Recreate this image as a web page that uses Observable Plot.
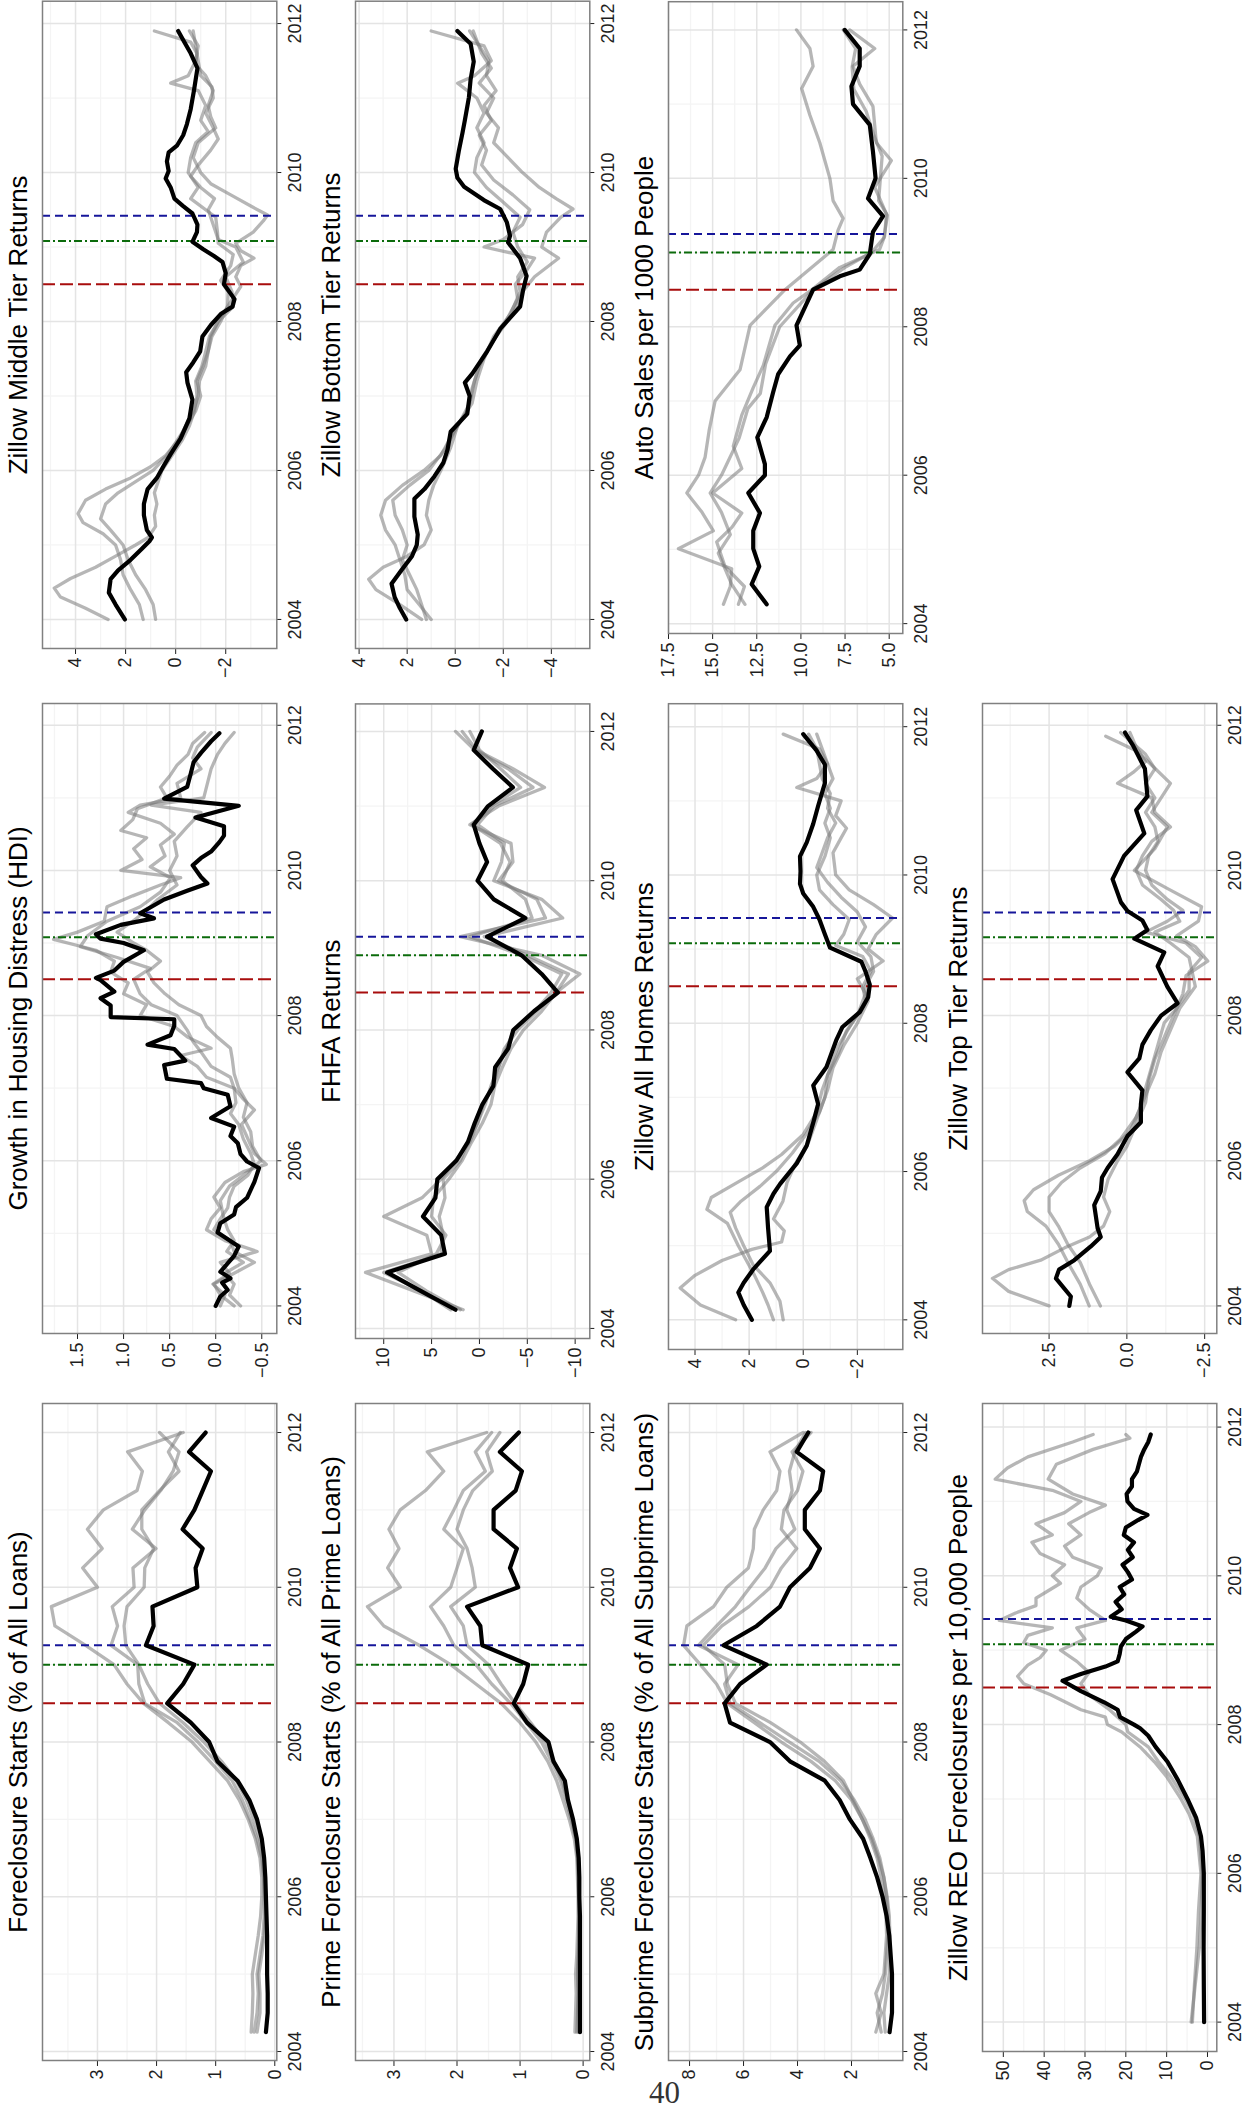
<!DOCTYPE html>
<html><head><meta charset="utf-8">
<script src="https://cdn.jsdelivr.net/npm/d3@7"></script>
<script src="https://cdn.jsdelivr.net/npm/@observablehq/plot@0.6"></script>
<style>
html,body{margin:0;padding:0;background:#fff;}
body{width:1245px;height:2110px;position:relative;overflow:hidden;font-family:"Liberation Sans",Arial,sans-serif;}
#land{position:absolute;left:0;top:0;width:2110px;height:1245px;transform-origin:0 0;transform:translate(0px,2110px) rotate(-90deg);}
#land svg{position:absolute;overflow:visible;max-width:none;}
#pagenum{position:absolute;left:649px;top:2077px;font-family:"Liberation Serif","DejaVu Serif",serif;font-size:31px;line-height:1;color:#333;}
</style></head><body>
<div id="land"></div>
<div id="pagenum">40</div>
<script>
// ---------- shared tick data ----------
const xMajor = [2004, 2006, 2008, 2010, 2012];
const xMinor = [2005, 2007, 2009, 2011];
const qYears = [2004.25,2004.5,2004.75,2005,2005.25,2005.5,2005.75,2006,2006.25,2006.5,2006.75,2007,2007.25,2007.5,2007.75,2008,2008.25,2008.5,2008.75,2009,2009.25,2009.5,2009.75,2010,2010.25,2010.5,2010.75,2011,2011.25,2011.5,2011.75,2012];
const breaksQuarterly = [2008.5, 2009.0, 2009.25];
const breaksMonthly = [2008.5, 2009.08, 2009.42];

// ---------- Foreclosure starts (quarterly) ----------
const fsBlack = [0.15,0.12,0.12,0.13,0.13,0.13,0.14,0.15,0.16,0.18,0.22,0.3,0.43,0.63,0.97,1.11,1.42,1.82,1.55,1.36,2.18,2.05,2.07,1.31,1.34,1.22,1.56,1.36,1.22,1.08,1.45,1.17];
const fsGray1 = [0.4,0.38,0.37,0.38,0.33,0.28,0.24,0.22,0.22,0.25,0.33,0.45,0.6,0.8,1.1,1.4,1.8,2.22,2.5,2.72,3.2,3.72,3.78,3.0,3.25,2.92,3.17,2.9,2.33,2.24,2.49,1.55];
const fsGray2 = [0.35,0.3,0.28,0.3,0.25,0.2,0.18,0.18,0.19,0.22,0.3,0.42,0.55,0.72,1.0,1.3,1.65,2.2,2.3,2.32,2.77,2.66,2.75,2.38,2.4,2.01,2.41,2.2,1.93,1.72,1.62,1.95];
const fsGray3 = [0.3,0.25,0.25,0.27,0.22,0.18,0.16,0.17,0.18,0.2,0.26,0.36,0.48,0.65,0.9,1.2,1.55,1.95,2.15,2.3,2.52,2.55,2.5,2.21,2.2,2.05,2.25,2.25,1.95,1.62,1.8,1.6];

const primeBlack = [0.05,0.05,0.05,0.05,0.05,0.05,0.05,0.06,0.06,0.07,0.1,0.16,0.24,0.29,0.47,0.55,0.89,1.1,0.95,0.87,1.6,1.63,1.84,1.03,1.16,1.05,1.42,1.42,1.07,0.97,1.32,1.02];
const primeGray1 = [0.13,0.12,0.11,0.12,0.1,0.09,0.08,0.08,0.09,0.1,0.14,0.22,0.32,0.42,0.56,0.75,1.0,1.3,1.7,2.1,2.6,3.16,3.42,2.9,3.1,2.92,3.08,2.9,2.5,2.21,2.47,1.53];
const primeGray2 = [0.1,0.09,0.08,0.09,0.08,0.07,0.07,0.07,0.08,0.09,0.12,0.19,0.27,0.36,0.5,0.66,0.9,1.15,1.45,1.7,2.05,2.21,2.42,2.1,2.0,1.9,2.21,2.05,1.9,1.55,1.71,1.45];
const primeGray3 = [0.08,0.08,0.07,0.08,0.07,0.06,0.06,0.06,0.07,0.08,0.11,0.17,0.25,0.33,0.46,0.6,0.83,1.08,1.3,1.5,1.84,1.9,2.1,1.71,1.76,1.84,2.0,1.9,1.75,1.44,1.53,1.32];

const subBlack = [0.59,0.5,0.5,0.5,0.55,0.6,0.7,0.85,1.05,1.3,1.57,2.06,2.44,2.99,4.28,5.02,6.5,6.7,6.13,5.14,6.74,5.51,4.65,4.28,3.54,3.17,3.73,3.73,3.17,3.05,4.03,3.6];
const subGray1 = [1.1,0.9,1.1,0.8,0.75,0.7,0.72,0.78,0.9,1.05,1.3,1.6,2.0,2.6,3.5,4.6,5.6,6.6,7.0,7.6,8.22,8.1,7.11,6.62,5.82,5.64,5.6,5.27,4.77,4.65,5.02,3.79];
const subGray2 = [0.9,1.05,0.85,0.75,0.7,0.65,0.65,0.7,0.8,0.95,1.2,1.5,1.9,2.4,3.2,4.3,5.4,6.5,6.7,6.2,7.67,7.0,6.3,5.76,5.2,4.8,4.1,4.4,4.2,4.3,4.1,3.7];
const subGray3 = [0.75,0.8,0.7,0.6,0.6,0.58,0.6,0.68,0.8,1.0,1.25,1.6,1.95,2.3,3.0,3.9,5.0,6.3,6.6,6.7,7.5,6.8,5.8,5.0,4.6,4.03,4.6,4.5,4.0,3.8,4.2,3.5];

const fhfaBlack = [2.5,6.1,9.65,3.6,4.0,5.9,4.6,4.4,2.4,1.2,0.5,-0.3,-1.46,-1.64,-3.0,-3.54,-5.7,-8.2,-6.5,-4.4,-0.8,-4.8,-1.5,0.2,-0.8,0.0,0.6,-0.9,-3.5,-1.4,0.6,-0.25];
const fhfaGray1 = [1.7,6.8,11.9,5.0,5.5,10.0,6.0,4.0,2.5,1.0,0.2,-0.6,-1.2,-2.0,-2.6,-4.0,-6.0,-8.0,-10.5,-6.5,2.0,-6.9,-6.0,-2.0,-3.5,-3.3,1.0,-2.0,-6.8,-3.5,0.3,1.8];
const fhfaGray2 = [2.0,5.5,8.5,4.5,3.5,5.0,4.8,3.2,1.8,0.8,-0.3,-1.2,-1.6,-2.4,-3.3,-4.6,-6.5,-8.0,-9.3,-5.0,-0.5,-8.7,-6.5,-1.5,-2.3,-2.6,0.2,-1.5,-5.6,-3.0,0.5,2.5];
const fhfaGray3 = [3.0,6.0,10.0,4.0,3.8,4.2,3.6,3.8,2.0,1.2,0.2,-0.4,-1.4,-2.0,-2.8,-3.6,-5.8,-7.5,-8.6,-4.5,1.0,-5.5,-4.8,-2.4,-3.2,-2.2,0.8,-1.2,-4.3,-2.2,0.0,1.0];

// ---------- monthly-ish series: [year, value] ----------
const reoBlack = [[2004.0,0.83],[2004.5,0.9],[2005.0,0.95],[2005.5,0.9],[2006.0,0.9],[2006.3,1.2],[2006.5,1.6],[2006.75,2.8],[2007.0,4.9],[2007.25,7.2],[2007.5,9.8],[2007.7,12.7],[2007.85,14.5],[2007.95,16.5],[2008.0,18],[2008.1,21.4],[2008.2,22],[2008.3,25.3],[2008.45,31],[2008.59,35.5],[2008.68,31],[2008.78,25],[2008.85,22],[2008.95,21.5],[2009.05,21.2],[2009.15,20],[2009.25,17.5],[2009.32,15.9],[2009.4,20],[2009.45,23.7],[2009.55,21],[2009.65,22.5],[2009.75,20.4],[2009.85,21.5],[2009.95,18.5],[2010.05,19.5],[2010.15,20.8],[2010.25,18.3],[2010.35,19.5],[2010.45,18],[2010.55,20.5],[2010.65,20],[2010.75,17],[2010.82,14.7],[2010.9,18],[2011.0,19.6],[2011.1,19.8],[2011.2,18.5],[2011.3,18.5],[2011.4,17.3],[2011.5,16.8],[2011.6,16.3],[2011.7,15.5],[2011.8,14.5],[2011.9,13.9]];
const reoGray1 = [[2004.0,3.7],[2004.5,3.2],[2005.0,2.6],[2005.5,2.2],[2006.0,1.6],[2006.5,2.5],[2006.8,4.5],[2007.0,6.5],[2007.3,10],[2007.5,13],[2007.7,16.5],[2007.9,21],[2008.0,24.5],[2008.1,25],[2008.2,31],[2008.4,38.4],[2008.55,45],[2008.65,46.5],[2008.8,44],[2008.9,41],[2009.0,39.5],[2009.1,45],[2009.2,44],[2009.3,38],[2009.4,51],[2009.5,47],[2009.6,42],[2009.7,42],[2009.8,39],[2009.9,36],[2010.0,38],[2010.15,35],[2010.3,41],[2010.45,43],[2010.55,38],[2010.7,42],[2010.85,35],[2011.0,31],[2011.15,38],[2011.3,52],[2011.45,49],[2011.6,44],[2011.8,33],[2011.9,28]];
const reoGray2 = [[2004.0,4.0],[2004.5,3.0],[2005.0,2.0],[2005.5,1.5],[2006.0,1.3],[2006.5,2.0],[2006.8,3.5],[2007.0,5.5],[2007.3,9],[2007.5,12],[2007.7,14.5],[2007.9,19.5],[2008.0,20],[2008.2,24],[2008.4,29],[2008.55,31],[2008.7,29],[2008.85,32],[2009.0,36],[2009.15,30],[2009.3,32],[2009.4,25],[2009.55,29],[2009.7,32],[2009.85,31],[2010.0,27],[2010.1,26],[2010.25,33],[2010.4,35],[2010.55,31],[2010.7,34],[2010.85,29],[2010.95,25],[2011.1,33],[2011.3,39],[2011.5,37],[2011.7,28],[2011.85,19],[2011.9,20]];

const hdiBlack = [[2004.0,0.0],[2004.13,-0.05],[2004.22,-0.13],[2004.32,-0.07],[2004.38,-0.16],[2004.47,-0.05],[2004.69,-0.2],[2004.82,-0.25],[2005.01,-0.02],[2005.14,-0.05],[2005.26,-0.2],[2005.36,-0.22],[2005.49,-0.34],[2005.71,-0.42],[2005.9,-0.47],[2005.99,-0.34],[2006.09,-0.27],[2006.24,-0.24],[2006.34,-0.16],[2006.47,-0.2],[2006.59,0.05],[2006.75,-0.16],[2006.91,-0.13],[2007.0,0.13],[2007.07,0.16],[2007.13,0.53],[2007.32,0.56],[2007.38,0.33],[2007.54,0.45],[2007.6,0.74],[2007.73,0.49],[2007.86,0.45],[2007.95,0.45],[2007.98,1.14],[2008.14,1.14],[2008.24,1.25],[2008.33,1.1],[2008.49,1.25],[2008.52,1.3],[2008.62,1.1],[2008.74,1.0],[2008.9,0.78],[2009.0,1.0],[2009.06,1.25],[2009.12,1.3],[2009.25,1.03],[2009.34,0.67],[2009.41,0.82],[2009.6,0.56],[2009.72,0.31],[2009.82,0.09],[2009.91,0.16],[2010.07,0.25],[2010.17,0.16],[2010.26,0.05],[2010.39,-0.04],[2010.48,-0.09],[2010.61,-0.09],[2010.73,0.22],[2010.89,-0.25],[2010.99,0.56],[2011.15,0.31],[2011.34,0.27],[2011.49,0.24],[2011.62,0.16],[2011.78,0.05],[2011.89,-0.04]];
const hdiGray1 = [[2004.0,-0.05],[2004.15,-0.1],[2004.3,0.03],[2004.45,-0.15],[2004.6,-0.05],[2004.75,-0.45],[2004.9,-0.1],[2005.05,0.1],[2005.2,0.05],[2005.35,-0.05],[2005.5,0.02],[2005.7,-0.1],[2005.85,-0.3],[2005.95,-0.55],[2006.1,-0.42],[2006.3,-0.35],[2006.5,-0.28],[2006.7,-0.42],[2006.85,-0.3],[2007.0,-0.2],[2007.15,0.1],[2007.3,0.2],[2007.45,0.38],[2007.55,0.05],[2007.7,0.3],[2007.85,0.45],[2008.0,0.82],[2008.15,0.75],[2008.3,1.0],[2008.45,0.95],[2008.6,1.14],[2008.75,1.1],[2008.9,1.3],[2009.05,1.76],[2009.15,1.5],[2009.3,1.21],[2009.5,1.18],[2009.65,0.9],[2009.8,0.6],[2009.9,0.38],[2010.0,1.03],[2010.15,0.8],[2010.3,0.89],[2010.45,0.75],[2010.55,1.03],[2010.7,0.9],[2010.85,0.85],[2011.0,0.53],[2011.15,0.6],[2011.3,0.5],[2011.45,0.42],[2011.6,0.3],[2011.75,0.25],[2011.9,0.12]];
const hdiGray2 = [[2004.0,-0.2],[2004.15,-0.05],[2004.3,0.02],[2004.45,-0.2],[2004.6,-0.42],[2004.75,-0.2],[2004.9,-0.16],[2005.05,0.02],[2005.2,-0.05],[2005.35,-0.13],[2005.5,-0.15],[2005.65,-0.2],[2005.8,-0.35],[2005.95,-0.42],[2006.1,-0.38],[2006.3,-0.3],[2006.5,-0.25],[2006.65,-0.16],[2006.8,-0.22],[2007.0,-0.2],[2007.15,-0.16],[2007.3,0.05],[2007.5,0.16],[2007.65,0.25],[2007.8,0.31],[2008.0,0.42],[2008.15,0.7],[2008.3,0.82],[2008.5,0.89],[2008.65,0.71],[2008.8,1.07],[2008.95,1.47],[2009.1,1.39],[2009.3,1.18],[2009.5,0.82],[2009.7,0.6],[2009.9,0.49],[2010.05,0.71],[2010.2,0.55],[2010.35,0.6],[2010.5,0.45],[2010.65,0.6],[2010.8,0.95],[2010.9,0.82],[2011.0,0.38],[2011.2,0.42],[2011.4,0.16],[2011.55,0.25],[2011.7,0.2],[2011.9,0.05]];
const hdiGray3 = [[2004.0,-0.27],[2004.15,-0.15],[2004.3,-0.2],[2004.45,-0.1],[2004.6,-0.3],[2004.75,-0.12],[2004.9,-0.2],[2005.05,-0.13],[2005.25,-0.08],[2005.45,-0.05],[2005.65,-0.15],[2005.85,-0.35],[2006.0,-0.49],[2006.2,-0.4],[2006.4,-0.38],[2006.6,-0.3],[2006.8,-0.34],[2007.0,-0.25],[2007.2,-0.2],[2007.4,-0.18],[2007.55,-0.16],[2007.7,-0.02],[2007.85,0.1],[2008.0,0.16],[2008.15,0.4],[2008.3,0.55],[2008.45,0.67],[2008.6,0.74],[2008.75,0.6],[2008.9,0.75],[2009.0,0.89],[2009.15,1.07],[2009.3,0.9],[2009.45,0.75],[2009.6,0.63],[2009.8,0.42],[2010.0,0.5],[2010.2,0.42],[2010.4,0.45],[2010.6,0.31],[2010.8,0.16],[2010.9,0.7],[2011.0,0.13],[2011.2,0.09],[2011.4,0.05],[2011.6,-0.02],[2011.75,-0.1],[2011.9,-0.2]];

const allBlack = [[2004.0,1.9],[2004.2,2.2],[2004.37,2.4],[2004.5,2.2],[2004.68,1.85],[2004.93,1.23],[2005.24,1.3],[2005.52,1.35],[2005.7,1.1],[2005.83,0.86],[2006.11,0.24],[2006.35,-0.13],[2006.66,-0.37],[2006.91,-0.55],[2007.16,-0.37],[2007.41,-0.86],[2007.78,-1.23],[2007.95,-1.45],[2008.15,-2.09],[2008.35,-2.4],[2008.52,-2.46],[2008.7,-2.3],[2008.83,-2.15],[2009.02,-0.99],[2009.2,-0.8],[2009.4,-0.6],[2009.57,-0.37],[2009.75,0.0],[2009.88,0.12],[2010.05,0.1],[2010.25,0.12],[2010.44,-0.13],[2010.69,-0.37],[2010.93,-0.55],[2011.24,-0.8],[2011.49,-0.8],[2011.68,-0.49],[2011.9,0.0]];
const allGray1 = [[2004.0,2.5],[2004.2,3.8],[2004.43,4.55],[2004.6,4.0],[2004.8,3.0],[2004.95,1.9],[2005.05,0.8],[2005.2,0.7],[2005.36,1.1],[2005.6,0.75],[2005.85,0.6],[2006.1,0.3],[2006.4,-0.2],[2006.7,-0.5],[2007.0,-0.8],[2007.3,-0.9],[2007.6,-1.3],[2007.9,-1.6],[2008.1,-2.0],[2008.4,-2.3],[2008.6,-2.0],[2008.84,-2.95],[2009.0,-2.4],[2009.2,-2.7],[2009.42,-3.3],[2009.6,-2.6],[2009.8,-1.7],[2010.0,-1.2],[2010.3,-1.1],[2010.5,-1.4],[2010.63,-1.6],[2010.8,-1.2],[2011.0,-1.4],[2011.18,0.24],[2011.3,-0.5],[2011.5,-0.9],[2011.7,-0.6],[2011.9,0.74]];
const allGray2 = [[2004.0,1.1],[2004.2,1.3],[2004.37,1.5],[2004.6,1.8],[2004.8,2.1],[2005.0,2.4],[2005.3,2.8],[2005.49,3.56],[2005.65,3.4],[2005.86,2.4],[2006.05,1.5],[2006.23,0.8],[2006.5,0.0],[2006.8,-0.5],[2007.1,-0.7],[2007.4,-1.0],[2007.7,-1.3],[2008.0,-1.8],[2008.3,-2.3],[2008.5,-2.2],[2008.7,-2.5],[2008.9,-2.2],[2009.05,-1.2],[2009.2,-1.5],[2009.4,-1.7],[2009.6,-1.1],[2009.8,-0.6],[2010.0,-0.5],[2010.25,-0.8],[2010.5,-1.0],[2010.7,-0.8],[2010.9,-1.0],[2011.1,-0.8],[2011.3,-1.1],[2011.5,-0.9],[2011.7,-0.7],[2011.9,-0.5]];
const allGray3 = [[2004.0,0.74],[2004.25,0.86],[2004.5,1.23],[2004.74,1.85],[2005.0,2.2],[2005.24,2.5],[2005.45,2.7],[2005.6,2.3],[2005.8,1.6],[2006.0,1.0],[2006.25,0.4],[2006.5,-0.1],[2006.8,-0.6],[2007.1,-0.9],[2007.4,-1.1],[2007.7,-1.5],[2008.0,-2.0],[2008.3,-2.4],[2008.5,-2.3],[2008.7,-2.6],[2008.9,-2.5],[2009.1,-2.0],[2009.3,-2.3],[2009.5,-2.0],[2009.7,-1.4],[2009.9,-0.9],[2010.1,-0.5],[2010.3,-0.7],[2010.5,-0.9],[2010.7,-1.2],[2010.9,-0.9],[2011.1,-1.0],[2011.3,-0.7],[2011.5,-0.6],[2011.7,-0.5],[2011.9,-0.2]];

const topBlack = [[2004.0,1.85],[2004.13,1.8],[2004.38,2.28],[2004.5,2.18],[2004.63,1.69],[2004.82,1.16],[2004.95,0.84],[2005.07,0.94],[2005.39,1.05],[2005.58,0.84],[2005.77,0.8],[2005.9,0.62],[2006.09,0.3],[2006.34,-0.02],[2006.53,-0.45],[2006.78,-0.45],[2006.97,-0.5],[2007.22,-0.02],[2007.41,-0.4],[2007.6,-0.5],[2007.8,-0.77],[2008.0,-1.1],[2008.17,-1.63],[2008.4,-1.3],[2008.68,-0.99],[2008.87,-1.2],[2009.06,-0.24],[2009.18,-0.66],[2009.31,-0.5],[2009.44,-0.02],[2009.56,0.19],[2009.88,0.46],[2010.2,0.09],[2010.51,-0.56],[2010.83,-0.3],[2011.02,-0.66],[2011.4,-0.58],[2011.72,-0.2],[2011.9,0.06]];
const topGray1 = [[2004.0,2.5],[2004.2,3.8],[2004.38,4.32],[2004.5,3.8],[2004.63,2.77],[2004.8,2.0],[2004.95,1.2],[2005.1,0.75],[2005.3,0.55],[2005.5,0.75],[2005.75,0.6],[2006.0,0.3],[2006.2,0.0],[2006.5,-0.3],[2006.8,-0.6],[2007.1,-0.7],[2007.4,-0.9],[2007.7,-1.2],[2008.0,-1.5],[2008.3,-1.8],[2008.55,-1.9],[2008.75,-2.6],[2008.95,-2.2],[2009.1,-1.6],[2009.3,-2.3],[2009.5,-2.4],[2009.75,-1.31],[2010.0,-0.24],[2010.3,-0.9],[2010.6,-1.3],[2010.8,-0.8],[2011.0,-1.1],[2011.2,-1.4],[2011.45,-0.8],[2011.65,-0.3],[2011.85,0.68]];
const topGray2 = [[2004.0,1.21],[2004.3,1.5],[2004.6,1.9],[2004.85,2.2],[2005.1,2.6],[2005.3,3.2],[2005.45,3.3],[2005.6,3.0],[2005.8,2.2],[2006.0,1.2],[2006.2,0.4],[2006.4,-0.1],[2006.7,-0.4],[2007.0,-0.6],[2007.3,-0.8],[2007.6,-1.0],[2007.9,-1.2],[2008.1,-1.6],[2008.35,-2.0],[2008.6,-2.0],[2008.8,-2.4],[2009.0,-1.9],[2009.15,-0.6],[2009.3,-1.3],[2009.45,-1.8],[2009.6,-1.3],[2009.8,-0.8],[2010.0,-0.6],[2010.2,-0.7],[2010.4,-1.0],[2010.6,-0.9],[2010.8,-0.6],[2011.0,-0.9],[2011.2,-0.6],[2011.4,-0.9],[2011.6,-0.6],[2011.9,0.2]];
const topGray3 = [[2004.0,0.85],[2004.3,1.2],[2004.6,1.5],[2004.85,1.9],[2005.1,2.2],[2005.3,2.5],[2005.5,2.5],[2005.7,2.1],[2005.9,1.5],[2006.1,0.7],[2006.3,0.2],[2006.6,-0.3],[2006.9,-0.6],[2007.2,-0.9],[2007.5,-1.1],[2007.8,-1.4],[2008.1,-1.7],[2008.4,-2.2],[2008.6,-2.1],[2008.8,-2.0],[2009.0,-1.4],[2009.15,-0.9],[2009.3,-1.7],[2009.45,-1.5],[2009.6,-1.1],[2009.8,-0.5],[2010.0,-0.3],[2010.2,-0.5],[2010.4,-0.8],[2010.6,-1.4],[2010.8,-0.9],[2011.0,-0.8],[2011.2,0.3],[2011.35,-0.2],[2011.5,-0.6],[2011.7,-0.3],[2011.9,-0.1]];

const midBlack = [[2004.0,2.03],[2004.2,2.4],[2004.36,2.67],[2004.54,2.6],[2004.66,2.3],[2004.8,1.8],[2004.95,1.35],[2005.05,1.05],[2005.1,0.95],[2005.2,1.15],[2005.4,1.27],[2005.55,1.27],[2005.75,1.12],[2005.9,0.75],[2006.05,0.5],[2006.22,0.2],[2006.43,-0.2],[2006.7,-0.55],[2006.95,-0.67],[2007.18,-0.47],[2007.32,-0.42],[2007.45,-0.7],[2007.6,-0.98],[2007.8,-1.07],[2007.95,-1.4],[2008.1,-1.8],[2008.2,-2.27],[2008.3,-2.35],[2008.5,-1.93],[2008.65,-2.0],[2008.8,-1.87],[2008.88,-1.53],[2008.97,-1.1],[2009.07,-0.67],[2009.2,-0.85],[2009.3,-0.87],[2009.45,-0.67],[2009.55,-0.3],[2009.65,0.05],[2009.8,0.2],[2009.92,0.4],[2010.02,0.28],[2010.15,0.35],[2010.27,0.28],[2010.36,-0.05],[2010.5,-0.3],[2010.65,-0.45],[2010.85,-0.6],[2011.1,-0.73],[2011.4,-0.87],[2011.6,-0.6],[2011.75,-0.35],[2011.9,-0.1]];
const midGray1 = [[2004.0,2.7],[2004.15,3.6],[2004.3,4.6],[2004.42,4.85],[2004.55,4.2],[2004.7,3.2],[2004.85,2.4],[2005.0,1.6],[2005.1,1.1],[2005.25,0.8],[2005.4,0.85],[2005.55,0.75],[2005.7,0.85],[2005.85,0.7],[2006.0,0.55],[2006.2,0.15],[2006.4,-0.25],[2006.6,-0.55],[2006.8,-0.75],[2007.0,-0.85],[2007.2,-0.8],[2007.4,-1.05],[2007.6,-1.2],[2007.8,-1.35],[2008.0,-1.7],[2008.2,-2.07],[2008.47,-2.6],[2008.6,-2.4],[2008.75,-2.6],[2008.85,-3.13],[2008.95,-2.6],[2009.05,-2.4],[2009.2,-3.1],[2009.35,-3.5],[2009.43,-3.67],[2009.55,-3.0],[2009.7,-2.2],[2009.85,-1.4],[2010.0,-1.0],[2010.2,-0.7],[2010.4,-0.9],[2010.6,-1.6],[2010.75,-1.4],[2010.9,-1.3],[2011.1,-1.5],[2011.3,-1.2],[2011.45,-0.8],[2011.6,-0.85],[2011.75,-0.6],[2011.9,0.85]];
const midGray2 = [[2004.0,1.3],[2004.2,1.45],[2004.4,1.8],[2004.6,2.1],[2004.8,2.2],[2005.0,2.4],[2005.15,2.9],[2005.3,3.7],[2005.42,3.9],[2005.6,3.6],[2005.75,2.8],[2005.9,1.8],[2006.05,1.0],[2006.2,0.4],[2006.4,-0.1],[2006.6,-0.4],[2006.8,-0.7],[2007.0,-0.9],[2007.2,-0.95],[2007.4,-1.2],[2007.6,-1.3],[2007.8,-1.45],[2008.0,-1.8],[2008.2,-2.07],[2008.4,-2.1],[2008.55,-1.8],[2008.75,-2.2],[2008.9,-2.3],[2009.05,-1.7],[2009.2,-1.67],[2009.4,-1.6],[2009.65,-0.6],[2009.8,-0.9],[2010.0,-0.5],[2010.2,-0.6],[2010.4,-0.8],[2010.55,-1.3],[2010.7,-1.0],[2010.9,-1.2],[2011.1,-0.9],[2011.2,0.2],[2011.3,-0.5],[2011.5,-0.8],[2011.7,-0.9],[2011.9,-0.55]];
const midGray3 = [[2004.0,0.8],[2004.2,0.9],[2004.4,1.2],[2004.6,1.6],[2004.8,1.9],[2005.0,2.1],[2005.2,2.6],[2005.35,3.0],[2005.55,2.8],[2005.7,2.3],[2005.85,1.6],[2006.0,0.9],[2006.2,0.35],[2006.4,-0.05],[2006.6,-0.45],[2006.8,-0.8],[2007.0,-1.0],[2007.2,-0.85],[2007.4,-1.1],[2007.6,-1.3],[2007.8,-1.4],[2008.0,-1.7],[2008.2,-2.3],[2008.4,-2.25],[2008.6,-2.0],[2008.8,-2.7],[2009.0,-2.4],[2009.1,-1.7],[2009.3,-1.5],[2009.5,-1.3],[2009.65,-1.55],[2009.8,-1.0],[2009.95,-0.6],[2010.1,-0.9],[2010.3,-1.4],[2010.45,-1.7],[2010.6,-1.5],[2010.8,-1.2],[2011.0,-1.5],[2011.15,-1.45],[2011.3,-1.0],[2011.5,-0.9],[2011.7,-0.8],[2011.9,-0.7]];

const botBlack = [[2004.0,2.04],[2004.15,2.3],[2004.3,2.52],[2004.48,2.65],[2004.66,2.24],[2004.85,1.8],[2005.0,1.6],[2005.14,1.56],[2005.38,1.7],[2005.62,1.7],[2005.75,1.28],[2005.92,0.87],[2006.1,0.5],[2006.28,0.32],[2006.52,0.19],[2006.76,-0.5],[2007.0,-0.6],[2007.18,-0.4],[2007.3,-0.71],[2007.6,-1.33],[2007.9,-1.87],[2008.2,-2.7],[2008.43,-2.83],[2008.61,-2.97],[2008.85,-2.7],[2009.06,-2.2],[2009.15,-2.28],[2009.33,-2.15],[2009.51,-1.87],[2009.63,-1.19],[2009.81,-0.37],[2009.93,-0.09],[2010.05,-0.02],[2010.29,-0.15],[2010.53,-0.3],[2010.7,-0.4],[2011.01,-0.57],[2011.25,-0.64],[2011.49,-0.77],[2011.73,-0.64],[2011.9,-0.09]];
const botGray1 = [[2004.0,1.4],[2004.2,2.3],[2004.4,3.3],[2004.54,3.6],[2004.7,3.0],[2004.85,2.0],[2005.0,1.3],[2005.2,1.0],[2005.4,1.2],[2005.6,1.1],[2005.8,0.9],[2006.0,0.6],[2006.3,0.2],[2006.6,-0.1],[2006.9,-0.6],[2007.2,-0.8],[2007.5,-1.1],[2007.8,-1.7],[2008.1,-2.4],[2008.4,-2.8],[2008.6,-3.3],[2008.85,-4.3],[2009.0,-3.6],[2009.2,-3.8],[2009.4,-4.4],[2009.51,-4.9],[2009.65,-4.2],[2009.8,-3.5],[2010.0,-2.8],[2010.2,-2.2],[2010.4,-1.6],[2010.6,-1.8],[2010.8,-1.3],[2011.0,-1.6],[2011.2,-1.0],[2011.4,-1.5],[2011.6,-1.1],[2011.9,-0.75]];
const botGray2 = [[2004.0,1.0],[2004.2,1.5],[2004.4,2.0],[2004.6,2.1],[2004.8,2.3],[2005.0,2.5],[2005.2,2.9],[2005.4,3.1],[2005.6,2.9],[2005.8,2.2],[2006.0,1.3],[2006.2,0.6],[2006.5,0.1],[2006.8,-0.5],[2007.1,-0.7],[2007.4,-1.0],[2007.7,-1.5],[2008.0,-2.1],[2008.3,-2.6],[2008.5,-2.5],[2008.7,-3.0],[2008.85,-3.3],[2009.0,-1.2],[2009.1,-2.0],[2009.3,-2.8],[2009.5,-3.1],[2009.7,-2.4],[2009.9,-1.6],[2010.1,-1.1],[2010.3,-1.3],[2010.5,-1.0],[2010.7,-1.5],[2010.9,-1.2],[2011.1,-1.7],[2011.3,-1.3],[2011.5,-1.4],[2011.7,-1.0],[2011.9,-0.6]];
const botGray3 = [[2004.0,1.2],[2004.2,1.4],[2004.4,1.6],[2004.6,1.9],[2004.8,2.2],[2005.0,2.0],[2005.2,2.2],[2005.4,2.5],[2005.6,2.6],[2005.8,1.9],[2006.0,1.1],[2006.3,0.4],[2006.6,-0.1],[2006.9,-0.7],[2007.2,-0.9],[2007.5,-1.2],[2007.8,-1.6],[2008.1,-2.3],[2008.4,-2.7],[2008.6,-2.6],[2008.8,-3.0],[2009.0,-2.6],[2009.2,-2.4],[2009.4,-2.7],[2009.6,-2.0],[2009.8,-1.3],[2010.0,-0.8],[2010.2,-0.9],[2010.4,-1.2],[2010.6,-0.9],[2010.8,-1.2],[2011.0,-0.9],[2011.2,-0.1],[2011.3,-0.8],[2011.5,-1.5],[2011.7,-1.2],[2011.9,1.0]];

const autoBlack = [[2004.26,11.94],[2004.53,12.79],[2004.77,12.36],[2005.01,12.7],[2005.25,12.7],[2005.49,12.32],[2005.76,12.98],[2006.0,12.04],[2006.15,12.04],[2006.51,12.47],[2006.78,11.94],[2007.12,11.57],[2007.36,11.29],[2007.6,10.62],[2007.75,10.06],[2008.02,10.25],[2008.5,9.31],[2008.68,7.8],[2008.77,6.67],[2008.98,6.1],[2009.28,5.92],[2009.49,5.35],[2009.73,6.2],[2010.0,5.77],[2010.36,5.92],[2010.72,6.1],[2011.0,7.05],[2011.24,7.14],[2011.51,6.67],[2011.75,6.67],[2012.0,7.52]];
const autoGray1 = [[2004.26,14.39],[2004.5,14.0],[2004.74,13.92],[2005.01,16.94],[2005.25,14.96],[2005.5,15.6],[2005.76,16.46],[2006.0,15.8],[2006.24,15.43],[2006.6,15.2],[2007.0,14.86],[2007.42,13.45],[2008.02,12.88],[2008.5,10.9],[2009.04,8.18],[2009.3,7.9],[2009.46,7.61],[2009.7,8.18],[2010.0,8.36],[2010.48,8.93],[2010.85,9.49],[2011.21,9.96],[2011.51,9.31],[2011.75,9.49],[2012.0,10.25]];
const autoGray2 = [[2004.26,13.54],[2004.5,13.2],[2004.77,14.3],[2005.1,14.77],[2005.3,13.9],[2005.49,13.35],[2005.76,15.0],[2006.09,13.35],[2006.39,13.83],[2006.81,13.35],[2007.18,12.7],[2007.48,12.13],[2008.02,11.47],[2008.32,10.44],[2008.5,9.37],[2008.8,7.8],[2008.92,6.67],[2009.04,5.55],[2009.22,5.26],[2009.52,5.16],[2009.88,5.82],[2010.24,4.88],[2010.48,5.73],[2010.97,5.92],[2011.27,6.67],[2011.51,7.05],[2011.75,5.82],[2012.0,7.24]];
const autoGray3 = [[2004.26,13.17],[2004.53,13.92],[2004.95,14.68],[2005.2,14.0],[2005.5,14.5],[2005.76,15.14],[2006.0,14.5],[2006.5,13.5],[2006.9,13.0],[2007.1,12.3],[2007.5,12.0],[2008.0,11.2],[2008.5,9.3],[2008.8,7.5],[2009.0,6.0],[2009.2,5.3],[2009.5,5.1],[2009.7,5.6],[2010.0,5.5],[2010.3,5.4],[2010.6,5.9],[2010.9,6.3],[2011.2,7.0],[2011.5,7.1],[2011.75,6.9],[2012.0,7.6]];

// ---------- titles & value-axis ticks ----------
const titles = {
  fs: "Foreclosure Starts (% of All Loans)",
  prime: "Prime Foreclosure Starts (% of All Prime Loans)",
  sub: "Subprime Foreclosure Starts (% of All Subprime Loans)",
  reo: "Zillow REO Foreclosures per 10,000 People",
  hdi: "Growth in Housing Distress (HDI)",
  fhfa: "FHFA Returns",
  all: "Zillow All Homes Returns",
  top: "Zillow Top Tier Returns",
  mid: "Zillow Middle Tier Returns",
  bot: "Zillow Bottom Tier Returns",
  auto: "Auto Sales per 1000 People"
};
const yTicksFs = [0,1,2,3], yMinorFs = [0.5,1.5,2.5,3.5];
const yTicksSub = [2,4,6,8], yMinorSub = [1,3,5,7];
const yTicksReo = [0,10,20,30,40,50], yMinorReo = [5,15,25,35,45,55];
const yTicksHdi = [-0.5,0,0.5,1,1.5], yMinorHdi = [-0.25,0.25,0.75,1.25,1.75];
const yTicksFhfa = [-10,-5,0,5,10], yMinorFhfa = [-7.5,-2.5,2.5,7.5,12.5];
const yTicksRet = [-2,0,2,4], yMinorRet = [-3,-1,1,3,5];
const yTicksTop = [-2.5,0,2.5], yMinorTop = [-1.25,1.25,3.75];
const yTicksBot = [-4,-2,0,2,4], yMinorBot = [-5,-3,-1,1,3];
const yTicksAuto = [5,7.5,10,12.5,15,17.5], yMinorAuto = [6.25,8.75,11.25,13.75,16.25];

const q = arr => qYears.map((t, i) => [t, arr[i]]);

// ---------- layout (landscape page, later rotated) ----------
const rowTop = [42, 355, 668.3, 981.7];
const frameH = 234.3;
const panels = [
  {key:"fs",   row:0, x0:49,    x1:706,    xd:[2003.884,2012.375], yd:[-0.034,3.93], yt:yTicksFs, ym:yMinorFs, fmt:"d",
   grays:[q(fsGray1),q(fsGray2),q(fsGray3)], black:q(fsBlack), v:breaksQuarterly},
  {key:"prime",row:1, x0:49,    x1:706,    xd:[2003.884,2012.375], yd:[-0.106,3.61], yt:yTicksFs, ym:yMinorFs, fmt:"d",
   grays:[q(primeGray1),q(primeGray2),q(primeGray3)], black:q(primeBlack), v:breaksQuarterly},
  {key:"sub",  row:2, x0:49,    x1:706,    xd:[2003.884,2012.375], yd:[0.10,8.78], yt:yTicksSub, ym:yMinorSub, fmt:"d",
   grays:[q(subGray1),q(subGray2),q(subGray3)], black:q(subBlack), v:breaksQuarterly},
  {key:"reo",  row:3, x0:58,    x1:706,    xd:[2003.605,2012.317], yd:[-2.28,55.1], yt:yTicksReo, ym:yMinorReo, fmt:"d",
   grays:[reoGray1,reoGray2], black:reoBlack, v:breaksMonthly},
  {key:"hdi",  row:0, x0:775.8, x1:1405.8, xd:[2003.62,2012.30], yd:[-0.663,1.88], yt:yTicksHdi, ym:yMinorHdi, fmt:".1f",
   grays:[hdiGray1,hdiGray2,hdiGray3], black:hdiBlack, v:breaksMonthly},
  {key:"fhfa", row:1, x0:771.2, x1:1405.8, xd:[2003.865,2012.369], yd:[-11.53,12.95], yt:yTicksFhfa, ym:yMinorFhfa, fmt:"d",
   grays:[q(fhfaGray1),q(fhfaGray2),q(fhfaGray3)], black:q(fhfaBlack), v:breaksQuarterly},
  {key:"all",  row:2, x0:760,   x1:1405.8, xd:[2003.60,2012.31], yd:[-3.68,4.98], yt:yTicksRet, ym:yMinorRet, fmt:"d",
   grays:[allGray1,allGray2,allGray3], black:allBlack, v:breaksMonthly},
  {key:"top",  row:3, x0:775.8, x1:1405.8, xd:[2003.62,2012.30], yd:[-2.89,4.64], yt:yTicksTop, ym:yMinorTop, fmt:".1f",
   grays:[topGray1,topGray2,topGray3], black:topBlack, v:breaksMonthly},
  {key:"mid",  row:0, x0:1460.5,x1:2107.8, xd:[2003.61,2012.30], yd:[-4.04,5.32], yt:yTicksRet, ym:yMinorRet, fmt:"d",
   grays:[midGray1,midGray2,midGray3], black:midBlack, v:breaksMonthly},
  {key:"bot",  row:1, x0:1460.5,x1:2107.8, xd:[2003.61,2012.30], yd:[-5.6,4.15], yt:yTicksBot, ym:yMinorBot, fmt:"d",
   grays:[botGray1,botGray2,botGray3], black:botBlack, v:breaksMonthly},
  {key:"auto", row:2, x0:1476,  x1:2107.8, xd:[2003.867,2012.38], yd:[4.23,17.5], yt:yTicksAuto, ym:yMinorAuto, fmt:".1f",
   grays:[autoGray1,autoGray2,autoGray3], black:autoBlack, v:breaksQuarterly}
];

const land = document.getElementById("land");
const mL = 70, mR = 14, mT = 46, mB = 40;
const gridMajor = "#e4e4e4", gridMinor = "#f4f4f4";
const vColors = ["#a80d0d", "#0b6b0b", "#16169a"];
const vDash = ["13,5", "8,3,2,3", "8,5"];

for (const p of panels) {
  const fw = p.x1 - p.x0;
  const chart = Plot.plot({
    width: fw + mL + mR,
    height: frameH + mT + mB,
    marginLeft: mL, marginRight: mR, marginTop: mT, marginBottom: mB,
    style: {fontFamily: "'Liberation Sans', Arial, Helvetica, sans-serif", fontSize: "18px", color: "#1e1e1e", background: "transparent", overflow: "visible", maxWidth: "none"},
    x: {domain: p.xd, ticks: xMajor, tickFormat: d3.format("d"), tickSize: 5, tickPadding: 6, label: null},
    y: {domain: p.yd, ticks: p.yt, tickFormat: d3.format(p.fmt), tickSize: 5, tickPadding: 4, label: null},
    marks: [
      Plot.ruleX(xMinor, {stroke: gridMinor, strokeWidth: 1.3}),
      Plot.ruleY(p.ym, {stroke: gridMinor, strokeWidth: 1.3}),
      Plot.ruleX(xMajor, {stroke: gridMajor, strokeWidth: 1.5}),
      Plot.ruleY(p.yt, {stroke: gridMajor, strokeWidth: 1.5}),
      ...p.grays.map(g => Plot.line(g, {x: d => d[0], y: d => d[1], stroke: "#7a7a7a", strokeOpacity: 0.55, strokeWidth: 3.3, strokeLinejoin: "round"})),
      ...p.v.map((t, i) => Plot.ruleX([t], {stroke: vColors[i], strokeDasharray: vDash[i], strokeWidth: 2})),
      Plot.line(p.black, {x: d => d[0], y: d => d[1], stroke: "#000", strokeWidth: 4.2, strokeLinejoin: "round"}),
      Plot.frame({stroke: "#808080", strokeWidth: 1.5}),
      Plot.text([titles[p.key]], {text: d => d, frameAnchor: "top", dy: -15, lineAnchor: "bottom", fontSize: 26, fill: "#000"})
    ]
  });
  chart.style.left = (p.x0 - mL) + "px";
  chart.style.top = (rowTop[p.row] - mT) + "px";
  land.appendChild(chart);
}
</script>
</body></html>
